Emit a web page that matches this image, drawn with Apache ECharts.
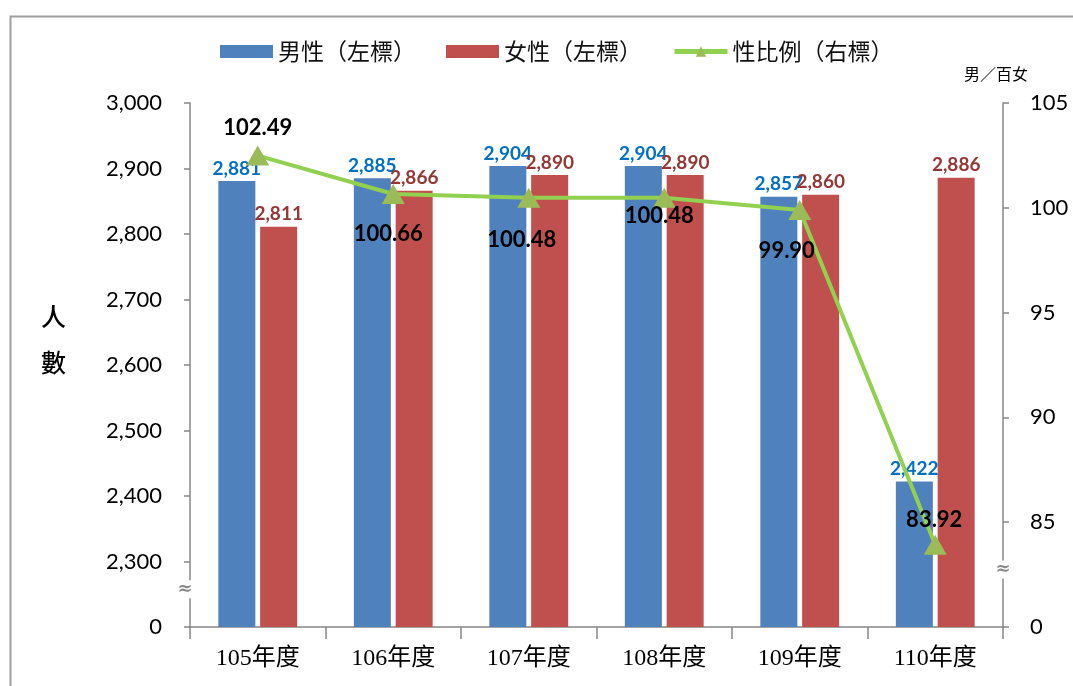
<!DOCTYPE html>
<html>
<head>
<meta charset="utf-8">
<script src="https://cdn.jsdelivr.net/npm/echarts@6/dist/echarts.min.js"></script>
<style>html,body{margin:0;padding:0;background:#fff;}#c{width:1073px;height:686px;}</style>
</head>
<body>
<div id="c"></div>
<script>
const categories = ['105年度', '106年度', '107年度', '108年度', '109年度', '110年度'];
const maleValues = [2881, 2885, 2904, 2904, 2857, 2422];
const femaleValues = [2811, 2866, 2890, 2890, 2860, 2886];
const ratioValues = [102.49, 100.66, 100.48, 100.48, 99.90, 83.92];
const leftTicks = { min: 2200, max: 3000, interval: 100, zeroAt: 2200 };
const rightTicks = { min: 80, max: 105, interval: 5, zeroAt: 80 };

const ratioLabelOffsets = [[0, -28], [-5, 40], [-7, 42], [-5, 18], [-13, 41], [-1, -25]];

const gridL = 190, gridR = 70, gridT = 103, gridB = 59;
const numFont = 'Lato, "Noto Sans", sans-serif';
const serifCJK = '"Liberation Serif", "Noto Sans CJK TC", serif';
const axisColor = '#878787';

const chart = echarts.init(document.getElementById('c'));
const option = {
  animation: false,
  backgroundColor: '#fff',
  grid: { left: gridL, right: gridR, top: gridT, bottom: gridB },
  legend: {
    left: 215, top: 35,
    itemWidth: 53, itemHeight: 13, itemGap: 30,
    textStyle: { fontFamily: '"Noto Sans CJK TC", sans-serif', fontSize: 23, color: '#111' },
    data: [
      { name: '男性（左標）', icon: 'rect' },
      { name: '女性（左標）', icon: 'rect' },
      { name: '性比例（右標）', lineStyle: { width: 5 } }
    ]
  },
  xAxis: {
    type: 'category',
    data: categories,
    axisLine: { lineStyle: { color: axisColor, width: 1.5 } },
    axisTick: { show: true, length: 12, interval: 0, lineStyle: { color: axisColor, width: 1.5 } },
    axisLabel: { margin: 20, fontFamily: serifCJK, fontSize: 24, color: '#000' }
  },
  yAxis: [
    {
      type: 'value', min: leftTicks.min, max: leftTicks.max, interval: leftTicks.interval,
      splitLine: { show: false },
      axisLine: { show: true, lineStyle: { color: axisColor, width: 1.5 } },
      axisTick: { show: true, length: 6, lineStyle: { color: axisColor, width: 1.5 } },
      axisLabel: {
        margin: 28, fontFamily: numFont, fontSize: 22, color: '#000',
        formatter: v => v === leftTicks.zeroAt ? '0' : v.toLocaleString('en-US')
      }
    },
    {
      type: 'value', min: rightTicks.min, max: rightTicks.max, interval: rightTicks.interval,
      position: 'right',
      splitLine: { show: false },
      axisLine: { show: true, lineStyle: { color: axisColor, width: 1.5 } },
      axisTick: { show: true, length: 6, lineStyle: { color: axisColor, width: 1.5 } },
      axisLabel: {
        margin: 27, fontFamily: numFont, fontSize: 22, color: '#000',
        formatter: v => v === rightTicks.zeroAt ? '0' : String(v)
      }
    }
  ],
  series: [
    {
      name: '男性（左標）', type: 'bar', yAxisIndex: 0,
      data: maleValues, barWidth: 37, barGap: '13%',
      itemStyle: { color: '#4F81BD' },
      label: {
        show: true, position: 'top', distance: 3, color: '#0070C0',
        fontFamily: numFont, fontWeight: 'bold', fontSize: 19,
        formatter: p => p.value.toLocaleString('en-US')
      }
    },
    {
      name: '女性（左標）', type: 'bar', yAxisIndex: 0,
      data: femaleValues, barWidth: 37,
      itemStyle: { color: '#C0504D' },
      label: {
        show: true, position: 'top', distance: 3, color: '#953735',
        fontFamily: numFont, fontWeight: 'bold', fontSize: 19,
        formatter: p => p.value.toLocaleString('en-US')
      }
    },
    {
      name: '性比例（右標）', type: 'line', yAxisIndex: 1,
      data: ratioValues.map((v, i) => ({
        value: v,
        label: { offset: ratioLabelOffsets[i] }
      })),
      symbol: 'triangle', symbolSize: [23, 20],
      lineStyle: { color: '#92D050', width: 4 },
      itemStyle: { color: '#9BBB59' },
      z: 5,
      label: {
        show: true, position: 'inside', color: '#000',
        fontFamily: numFont, fontWeight: 'bold', fontSize: 22,
        formatter: p => p.value.toFixed(2)
      }
    }
  ]
};
chart.setOption(option);

const breakYL = chart.convertToPixel({ yAxisIndex: 0 }, (leftTicks.zeroAt + leftTicks.zeroAt + leftTicks.interval) / 2);
const breakYR = chart.convertToPixel({ yAxisIndex: 1 }, (rightTicks.zeroAt + rightTicks.zeroAt + rightTicks.interval) / 2);
chart.setOption({
  graphic: [
    { type: 'rect', left: 8, top: 14, z: -1, silent: true,
      shape: { width: 1120, height: 720 },
      style: { fill: 'none', stroke: '#a0a0a0', lineWidth: 2 } },
    { type: 'text', left: 41, top: 293,
      style: { text: '人\n數', font: '500 25px "Noto Sans CJK TC", sans-serif', lineHeight: 46, fill: '#000' } },
    { type: 'text', left: 964, top: 66,
      style: { text: '男／百女', font: '16px "Noto Sans CJK TC", sans-serif', fill: '#000' } },
    { type: 'text', x: gridL - 5, y: breakYL - 5, z: 100,
      style: { text: '≈', font: 'bold 18px "DejaVu Sans", sans-serif', fill: '#888', align: 'center', verticalAlign: 'middle', backgroundColor: '#fff' } },
    { type: 'text', x: 1073 - gridR, y: breakYR - 5, z: 100,
      style: { text: '≈', font: 'bold 18px "DejaVu Sans", sans-serif', fill: '#888', align: 'center', verticalAlign: 'middle', backgroundColor: '#fff' } }
  ]
});
</script>
</body>
</html>
